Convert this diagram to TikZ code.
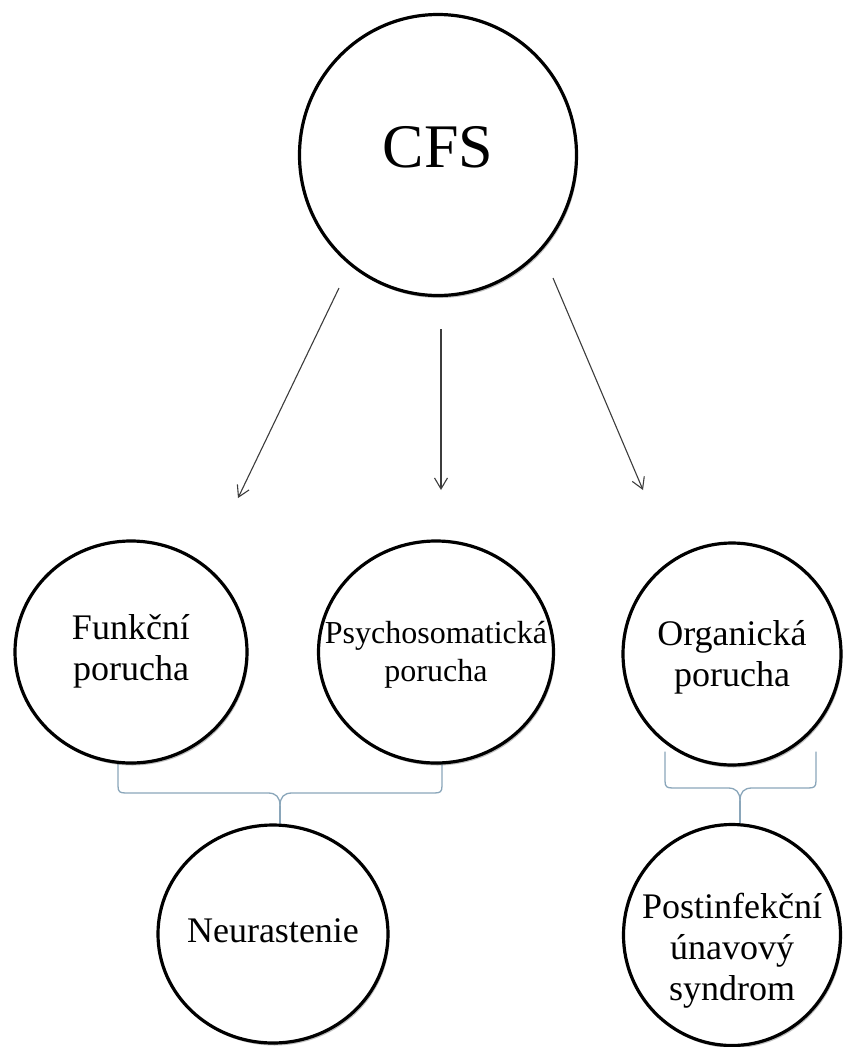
\documentclass[tikz,border=0pt]{standalone}
\usepackage{fontspec}
\setmainfont{LiberationSerif}[Extension=.ttf, UprightFont=*-Regular, BoldFont=*-Bold, ItalicFont=*-Italic, BoldItalicFont=*-BoldItalic]
\usepackage{tikz}
\usetikzlibrary{positioning,arrows.meta,shapes.geometric,backgrounds,calc,shadows}
\definecolor{inkcol}{RGB}{0,0,0}
\definecolor{arrowcol}{RGB}{60,60,60}
\definecolor{bracecol}{RGB}{138,166,186}
\newcommand{\circtxt}[2][0pt]{\raisebox{#1}[\height][\depth]{\makebox[0pt]{\begin{tabular}{@{}c@{}}#2\end{tabular}}}}

\begin{document}
\begin{tikzpicture}[
  x=1pt, y=-1pt,
  >={Straight Barb[length=11pt, width=13pt]},
  blob/.style={ellipse, draw=inkcol, line width=3.2pt, fill=white, inner sep=0pt,
               font=\fontsize{36}{41}\selectfont,
               drop shadow={shadow xshift=1.5pt, shadow yshift=-2.5pt, opacity=.25, fill=black}},
  flow/.style={->, line width=1.1pt, draw=arrowcol},
  brace/.style={line width=1.3pt, draw=bracecol, line cap=round},
]
\useasboundingbox (0,0) rectangle (848,1047);

% ---------- top: CFS ----------
\node[blob, minimum width=277pt, minimum height=281pt, font=\fontsize{62}{70}\selectfont]
  (cfs) at (438,155) {\circtxt[2pt]{CFS}};

% ---------- middle row ----------
\node[blob, minimum width=232pt, minimum height=222pt] (funk) at (131,652)
  {\circtxt{Funkční\\porucha}};
\node[blob, minimum width=235pt, minimum height=222pt, font=\fontsize{32}{38}\selectfont]
  (psych) at (436,652) {\circtxt[-3pt]{Psychosomatická\\porucha}};
\node[blob, minimum width=218pt, minimum height=222pt] (org) at (732,654)
  {\circtxt[-4pt]{Organická\\porucha}};

% ---------- bottom row ----------
\node[blob, minimum width=230pt, minimum height=218pt] (neur) at (273,934)
  {\circtxt{Neurastenie}};
\node[blob, minimum width=217pt, minimum height=221pt] (post) at (732,935)
  {\circtxt[-16pt]{Postinfekční\\únavový\\syndrom}};

% ---------- arrows from CFS ----------
\coordinate (a1s) at (339,288);  \coordinate (a1e) at (238,498);
\coordinate (a2s) at (441,329);  \coordinate (a2e) at (441,490);
\coordinate (a3s) at (553,278);  \coordinate (a3e) at (643,490);
\draw[flow] (a1s) -- (a1e);
\draw[flow] (a2s) -- (a2e);
\draw[flow] (a3s) -- (a3e);

% ---------- braces ----------
\coordinate (lbl) at ($(funk.south)+(-13,-4)$);
\coordinate (lbr) at ($(psych.south)+(6,-4)$);
\coordinate (lbtip) at (280,806);
\coordinate (rbl) at (665,752);
\coordinate (rbr) at (816,752);
\coordinate (rbtip) at (740,801);

\begin{scope}[on background layer]
  \draw[brace] (lbl) -- (118,786) .. controls (118,792) and (120,793) .. (126,793)
    -- (268,793) .. controls (276,793) and (280,797) .. (lbtip);
  \draw[brace] (lbr) -- (442,786) .. controls (442,792) and (440,793) .. (434,793)
    -- (292,793) .. controls (284,793) and (280,797) .. (lbtip);
  \draw[brace] (lbtip) -- (lbtip |- neur.north);
  \draw[brace] (rbl) -- (665,781) .. controls (665,787) and (667,788) .. (673,788)
    -- (728,788) .. controls (736,788) and (740,792) .. (rbtip);
  \draw[brace] (rbr) -- (816,781) .. controls (816,787) and (814,788) .. (808,788)
    -- (752,788) .. controls (744,788) and (740,792) .. (rbtip);
  \draw[brace] (rbtip) -- (rbtip |- post.north);
\end{scope}

\end{tikzpicture}
\end{document}
